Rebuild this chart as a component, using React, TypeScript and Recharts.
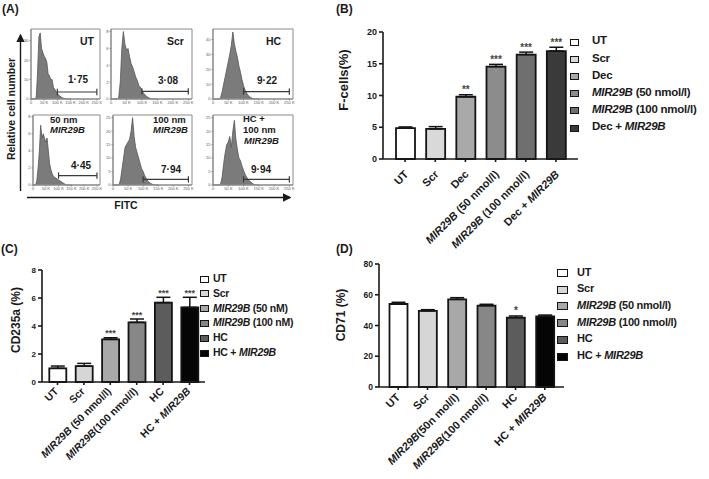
import React from "react";
import {
  AreaChart,
  Area,
  BarChart,
  Bar,
  Cell,
  ErrorBar,
  LabelList,
  XAxis,
  YAxis,
  ReferenceArea,
  ReferenceLine,
} from "recharts";

const FONT = "'Liberation Sans', Arial, Helvetica, sans-serif";

// ---------- panel A: FITC histograms (x in thousands) ----------
const fitcBins = [0, 5, 10, 15, 20, 25, 30, 35, 40, 45, 50, 55, 60, 65, 70, 75, 80, 85, 90, 95, 100, 105, 110, 115, 120, 125, 130, 135, 140, 145, 150];
const fitcTicks = [0, 50, 100, 150, 200, 250];
const histUT = [0, 0, 0, 0, 1, 14, 32, 34, 26, 24, 22, 21, 19, 13, 12, 10, 10, 6, 5, 4, 3, 2, 1.5, 1, 0.6, 0.3, 0.1, 0, 0, 0, 0];
const histScr = [0, 0, 0, 0, 0, 0.2, 2, 6, 8, 6.5, 5.8, 6, 5, 4.2, 3.8, 3.2, 2.6, 2.2, 1.6, 1.4, 1.0, 0.7, 0.5, 0.3, 0.2, 0.1, 0, 0, 0, 0, 0];
const histHC = [0, 0, 0, 0, 0, 1, 5, 10, 15, 20, 25, 30, 36, 45, 37, 32, 28, 22, 18, 13, 9, 6, 4, 2.5, 1.5, 0.8, 0.3, 0, 0, 0, 0];
const hist50 = [0, 0, 0, 0.5, 2, 4, 7, 5.5, 6, 5.5, 5, 5.5, 4, 2.5, 1.8, 1.3, 1.0, 0.9, 0.8, 0.7, 0.6, 0.5, 0.4, 0.3, 0.2, 0.1, 0, 0, 0, 0, 0];
const hist100 = [0, 0, 0, 0, 0, 2, 6, 10, 14, 15, 16, 17, 20, 25, 18, 14, 12, 10, 8, 6, 5, 3.5, 2.5, 1.5, 1, 0.6, 0.3, 0.1, 0, 0, 0];
const histHCMir = [0, 0, 0, 0, 0, 0.5, 3, 8, 12, 15, 16, 18, 14, 20, 24, 17, 13, 10, 9, 7, 5.5, 4, 3, 2, 1.5, 1, 0.5, 0.2, 0, 0, 0];
const gateRange = [100, 250];
const gatePercents = ["1·75", "3·08", "9·22", "4·45", "7·94", "9·94"];
const gateLevels = [3.6, 0.9, 5, 1.1, 2.1, 2.1];

// ---------- panel B: F-cells ----------
const bNames = ["UT", "Scr", "Dec", "MIR29B (50 nmol/l)", "MIR29B (100 nmol/l)", "Dec + MIR29B"];
const bMeans = [4.85, 4.75, 9.8, 14.55, 16.45, 17.0];
const bErrs = [0.2, 0.35, 0.32, 0.35, 0.38, 0.6];
const bSig = ["", "", "**", "***", "***", "***"];
const bTicks = [0, 5, 10, 15, 20];
const bColors = ["#ffffff", "#d9d9d9", "#a9a9a9", "#8c8c8c", "#6f6f6f", "#3a3a3a"];

// ---------- panel C: CD235a ----------
const cNames = ["UT", "Scr", "MIR29B (50 nmol/l)", "MIR29B(100 nmol/l)", "HC", "HC + MIR29B"];
const cLegend = ["UT", "Scr", "MIR29B (50 nM)", "MIR29B (100 nM)", "HC", "HC + MIR29B"];
const cMeans = [0.98, 1.14, 3.05, 4.26, 5.67, 5.33];
const cErrs = [0.16, 0.19, 0.11, 0.24, 0.38, 0.72];
const cSig = ["", "", "***", "***", "***", "***"];
const cTicks = [0, 2, 4, 6, 8];
const cColors = ["#ffffff", "#d6d6d6", "#a8a8a8", "#878787", "#5c5c5c", "#050505"];

// ---------- panel D: CD71 ----------
const dNames = ["UT", "Scr", "MIR29B(50n mol/l)", "MIR29B(100 nmol/l)", "HC", "HC + MIR29B"];
const dLegend = ["UT", "Scr", "MIR29B (50 nmol/l)", "MIR29B (100 nmol/l)", "HC", "HC + MIR29B"];
const dMeans = [54.0, 49.5, 57.0, 52.9, 45.1, 46.0];
const dErrs = [1.1, 0.8, 1.1, 0.9, 1.1, 0.8];
const dSig = ["", "", "", "", "*", ""];
const dTicks = [0, 20, 40, 60, 80];
const dColors = ["#ffffff", "#d6d6d6", "#a8a8a8", "#878787", "#5c5c5c", "#050505"];

function Italicized({ text }: { text: string }) {
  const parts = text.split(/(MIR29B)/);
  return (
    <>
      {parts.map((p, i) =>
        p === "MIR29B" ? (
          <i key={i}>{p}</i>
        ) : (
          <span key={i}>{p}</span>
        )
      )}
    </>
  );
}

function SlantTick(props: any) {
  const { x, y, payload, dx, dy, fs } = props;
  const tx = x + dx;
  const ty = y + dy;
  const parts = String(payload.value).split(/(MIR29B)/);
  return (
    <text
      x={tx}
      y={ty}
      textAnchor="end"
      transform={`rotate(-45, ${tx}, ${ty})`}
      fontSize={fs}
      fontWeight="bold"
      fontFamily={FONT}
      fill="#1a1a1a"
      style={{ whiteSpace: "pre" }}
    >
      {parts.map((p, i) => (
        <tspan key={i} fontStyle={p === "MIR29B" ? "italic" : "normal"}>
          {p}
        </tspan>
      ))}
    </text>
  );
}

function starContent(means: number[], errs: number[], fs: number) {
  return (p: any) => {
    const { x, y, width, height, index, value } = p;
    if (!value) return null;
    const pxPerUnit = height / means[index];
    const top = y - errs[index] * pxPerUnit;
    return (
      <text x={x + width / 2} y={top - 1.5} textAnchor="middle" fontSize={fs} fontWeight="bold" fontFamily={FONT} fill="#444">
        {value}
      </text>
    );
  };
}

type BarPanelProps = {
  names: string[];
  means: number[];
  errs: number[];
  sig: string[];
  colors: string[];
  ticks: number[];
  left: number;
  top: number;
  width: number;
  height: number;
  marginTop: number;
  marginRight: number;
  yWidth: number;
  xHeight: number;
  pad: number;
  barSize: number;
  yFont: number;
  xFont: number;
  tdx: number;
  tdy: number;
  starFont: number;
};

function BarPanel(p: BarPanelProps) {
  const data = p.names.map((name, i) => ({
    name,
    mean: p.means[i],
    errRange: [0, p.errs[i]],
    sig: p.sig[i],
  }));
  const axisStyle = { stroke: "#1a1a1a", strokeWidth: 1.6 };
  return (
    <div style={{ position: "absolute", left: p.left, top: p.top }}>
      <BarChart
        width={p.width}
        height={p.height}
        data={data}
        margin={{ top: p.marginTop, right: p.marginRight, bottom: 0, left: 0 }}
      >
        <XAxis
          dataKey="name"
          interval={0}
          height={p.xHeight}
          padding={{ left: p.pad, right: p.pad }}
          tickSize={3}
          tickMargin={0}
          axisLine={axisStyle}
          tickLine={axisStyle}
          tick={(t: any) => <SlantTick {...t} dx={p.tdx} dy={p.tdy} fs={p.xFont} />}
        />
        <YAxis
          width={p.yWidth}
          domain={[p.ticks[0], p.ticks[p.ticks.length - 1]]}
          ticks={p.ticks}
          interval={0}
          tickSize={4}
          axisLine={axisStyle}
          tickLine={axisStyle}
          tick={{ fontSize: p.yFont, fontWeight: "bold", fill: "#1a1a1a", fontFamily: FONT }}
        />
        <Bar dataKey="mean" barSize={p.barSize} stroke="#141414" strokeWidth={1.8} isAnimationActive={false}>
          {data.map((d, i) => (
            <Cell key={d.name} fill={p.colors[i]} stroke="#141414" />
          ))}
          <ErrorBar dataKey="errRange" width={7} stroke="#141414" strokeWidth={1.5} direction="y" />
          <LabelList dataKey="sig" content={starContent(p.means, p.errs, p.starFont)} />
        </Bar>
      </BarChart>
    </div>
  );
}

type LegendProps = {
  labels: string[];
  colors: string[];
  x: number;
  y0: number;
  step: number;
  sw: number;
  sh: number;
  textX: number;
  fs: number;
};

function SideLegend(p: LegendProps) {
  return (
    <>
      {p.labels.map((lab, i) => {
        const cy = p.y0 + i * p.step;
        return (
          <React.Fragment key={lab}>
            <div
              style={{
                position: "absolute",
                left: p.x,
                top: cy - p.sh / 2,
                width: p.sw,
                height: p.sh,
                boxSizing: "border-box",
                border: "1.6px solid #141414",
                background: p.colors[i],
              }}
            />
            <div
              style={{
                position: "absolute",
                left: p.textX,
                top: cy - p.fs * 0.58,
                fontSize: p.fs,
                lineHeight: 1,
                fontWeight: "bold",
                whiteSpace: "pre",
                letterSpacing: -0.25,
                color: "#1a1a1a",
              }}
            >
              <Italicized text={lab} />
            </div>
          </React.Fragment>
        );
      })}
    </>
  );
}

type HistProps = {
  values: number[];
  yMax: number;
  yTicks: number[];
  gate: number;
  boxL: number;
  boxT: number;
  boxR: number;
  boxB: number;
};

function Histogram(h: HistProps) {
  const data = fitcBins.map((b, i) => ({ fitc: b, count: h.values[i] }));
  const yW = 9;
  const xH = 8;
  const mt = 3;
  const mr = 2;
  const width = h.boxR - h.boxL + yW + mr;
  const height = h.boxB - h.boxT + mt + xH;
  const tickStyle = { fontSize: 4, fill: "#555", fontFamily: FONT };
  const capH = h.yMax * 0.045;
  return (
    <div style={{ position: "absolute", left: h.boxL - yW, top: h.boxT - mt }}>
      <AreaChart width={width} height={height} data={data} margin={{ top: mt, right: mr, bottom: 0, left: 0 }}>
        <XAxis
          type="number"
          dataKey="fitc"
          domain={[0, 262]}
          ticks={fitcTicks}
          interval={0}
          height={xH}
          tickSize={1.5}
          tickMargin={1}
          tick={tickStyle}
          tickFormatter={(v: number) => (v === 0 ? "0" : `${v} K`)}
          axisLine={{ stroke: "#888" }}
          tickLine={{ stroke: "#888" }}
        />
        <YAxis
          type="number"
          domain={[0, h.yMax]}
          ticks={h.yTicks}
          interval={0}
          width={yW}
          tickSize={1.5}
          tickMargin={1}
          tick={tickStyle}
          axisLine={{ stroke: "#888" }}
          tickLine={{ stroke: "#888" }}
        />
        <Area
          type="linear"
          dataKey="count"
          stroke="#555"
          strokeWidth={0.8}
          fill="#7b7b7b"
          fillOpacity={1}
          isAnimationActive={false}
        />
        <ReferenceArea x1={0} x2={262} y1={0} y2={h.yMax} fill="none" stroke="#8a8a8a" strokeWidth={1} />
        <ReferenceLine segment={[{ x: gateRange[0], y: h.gate }, { x: gateRange[1], y: h.gate }]} stroke="#3a3a3a" strokeWidth={1.2} />
        <ReferenceLine segment={[{ x: gateRange[0], y: h.gate - capH }, { x: gateRange[0], y: h.gate + capH }]} stroke="#3a3a3a" strokeWidth={1.2} />
        <ReferenceLine segment={[{ x: gateRange[1], y: h.gate - capH }, { x: gateRange[1], y: h.gate + capH }]} stroke="#3a3a3a" strokeWidth={1.2} />
      </AreaChart>
    </div>
  );
}

function Txt({ x, y, fs, children, italic, center }: any) {
  return (
    <div
      style={{
        position: "absolute",
        left: x,
        top: y,
        fontSize: fs,
        lineHeight: 1,
        fontWeight: "bold",
        fontStyle: italic ? "italic" : "normal",
        whiteSpace: "pre",
        color: "#1a1a1a",
        transform: center ? "translateX(-50%)" : undefined,
      }}
    >
      {children}
    </div>
  );
}

function VLabel({ cx, cy, fs, children }: any) {
  return (
    <div
      style={{
        position: "absolute",
        left: cx,
        top: cy,
        fontSize: fs,
        lineHeight: 1,
        fontWeight: "bold",
        whiteSpace: "pre",
        color: "#1a1a1a",
        transform: "translate(-50%, -50%) rotate(-90deg)",
      }}
    >
      {children}
    </div>
  );
}

export default function App() {
  const hists: HistProps[] = [
    { values: histUT, yMax: 36, yTicks: [0, 10, 20, 30], gate: gateLevels[0], boxL: 31, boxT: 29, boxR: 100, boxB: 99 },
    { values: histScr, yMax: 8.3, yTicks: [0, 2, 4, 6, 8], gate: gateLevels[1], boxL: 111, boxT: 29, boxR: 192, boxB: 99 },
    { values: histHC, yMax: 47, yTicks: [0, 10, 20, 30, 40], gate: gateLevels[2], boxL: 213, boxT: 29, boxR: 293, boxB: 99 },
    { values: hist50, yMax: 8.2, yTicks: [0, 2, 4, 6, 8], gate: gateLevels[3], boxL: 33, boxT: 115, boxR: 100, boxB: 185 },
    { values: hist100, yMax: 26, yTicks: [0, 5, 10, 15, 20, 25], gate: gateLevels[4], boxL: 113, boxT: 115, boxR: 192, boxB: 185 },
    { values: histHCMir, yMax: 26, yTicks: [0, 5, 10, 15, 20, 25], gate: gateLevels[5], boxL: 213, boxT: 115, boxR: 293, boxB: 185 },
  ];
  const gatePos = [
    [78, 75], [168, 76], [267, 76], [81, 161], [171, 165], [261, 165],
  ];
  return (
    <div
      style={{
        position: "absolute",
        left: 0,
        top: 0,
        width: 709,
        height: 479,
        background: "#fff",
        fontFamily: FONT,
        overflow: "hidden",
      }}
    >
      {/* panel letters */}
      <Txt x={2} y={3} fs={12}>(A)</Txt>
      <Txt x={336} y={3} fs={12}>(B)</Txt>
      <Txt x={1} y={243} fs={12}>(C)</Txt>
      <Txt x={336} y={243} fs={12}>(D)</Txt>

      {/* panel A */}
      <svg width={709} height={479} style={{ position: "absolute", left: 0, top: 0 }}>
        <defs>
          <marker id="arr" markerWidth="6" markerHeight="6" refX="5" refY="3" orient="auto">
            <path d="M0,0 L6,3 L0,6 z" fill="#1a1a1a" />
          </marker>
        </defs>
        <line x1={20.5} y1={191} x2={20.5} y2={35} stroke="#1a1a1a" strokeWidth={1.4} markerEnd="url(#arr)" />
        <line x1={27} y1={197.5} x2={290} y2={197.5} stroke="#1a1a1a" strokeWidth={1.4} markerEnd="url(#arr)" />
      </svg>
      {hists.map((h, i) => (
        <Histogram key={i} {...h} />
      ))}
      {gatePercents.map((g, i) => (
        <Txt key={g} x={gatePos[i][0]} y={gatePos[i][1]} fs={10} center>
          {g}
        </Txt>
      ))}
      <Txt x={80} y={35.5} fs={10.5}>UT</Txt>
      <Txt x={167} y={36} fs={10.5}>Scr</Txt>
      <Txt x={266} y={36} fs={10.5}>HC</Txt>
      <Txt x={50} y={115} fs={9.5}>50 nm</Txt>
      <Txt x={50} y={125} fs={9.5} italic>MIR29B</Txt>
      <Txt x={153} y={115} fs={9.5}>100 nm</Txt>
      <Txt x={153} y={125} fs={9.5} italic>MIR29B</Txt>
      <Txt x={243} y={114} fs={9.5}>HC +</Txt>
      <Txt x={243} y={125} fs={9.5}>100 nm</Txt>
      <Txt x={244} y={136} fs={9.5} italic>MIR29B</Txt>
      <VLabel cx={11} cy={109} fs={10.5}>Relative cell number</VLabel>
      <Txt x={126} y={200} fs={10.5} center>FITC</Txt>

      {/* panel B */}
      <VLabel cx={343} cy={80} fs={13}>F-cells(%)</VLabel>
      <BarPanel
        names={bNames} means={bMeans} errs={bErrs} sig={bSig} colors={bColors} ticks={bTicks}
        left={320} top={20} width={270} height={235} marginTop={12} marginRight={12}
        yWidth={63} xHeight={96} pad={7} barSize={19} yFont={9} xFont={11} tdx={4} tdy={13} starFont={10}
      />
      <SideLegend labels={bNames} colors={bColors} x={570} y0={42} step={17.2} sw={9} sh={7} textX={592} fs={11.5} />

      {/* panel C */}
      <VLabel cx={16} cy={320} fs={12}>CD235a (%)</VLabel>
      <BarPanel
        names={cNames} means={cMeans} errs={cErrs} sig={cSig} colors={cColors} ticks={cTicks}
        left={0} top={255} width={210} height={224} marginTop={15} marginRight={5}
        yWidth={42} xHeight={97} pad={2.3} barSize={17} yFont={8} xFont={10.5} tdx={1.5} tdy={7} starFont={9}
      />
      <SideLegend labels={cLegend} colors={cColors} x={200} y0={279} step={14.8} sw={9} sh={7} textX={213} fs={10.5} />

      {/* panel D */}
      <VLabel cx={341} cy={315} fs={12}>CD71 (%)</VLabel>
      <BarPanel
        names={dNames} means={dMeans} errs={dErrs} sig={dSig} colors={dColors} ticks={dTicks}
        left={335} top={250} width={235} height={229} marginTop={14} marginRight={6}
        yWidth={44} xHeight={92} pad={4.5} barSize={18} yFont={8.5} xFont={11} tdx={2.5} tdy={8} starFont={10}
      />
      <SideLegend labels={dLegend} colors={dColors} x={557} y0={273} step={16.7} sw={11} sh={8} textX={577} fs={11} />
    </div>
  );
}
